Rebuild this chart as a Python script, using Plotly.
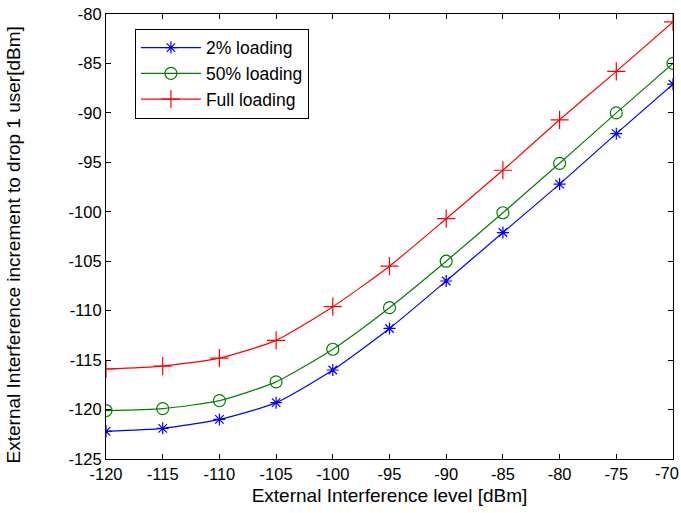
import plotly.graph_objects as go

# Interference level sweep [dBm]
interference_dbm = [-120, -115, -110, -105, -100, -95, -90, -85, -80, -75, -70]

# External interference increment needed to drop one user [dBm]
loading_2pct = [-122.2, -121.9, -121.0, -119.3, -116.0, -111.8, -107.0, -102.1, -97.2, -92.1, -87.1]
loading_50pct = [-120.1, -119.9, -119.1, -117.2, -113.9, -109.7, -105.0, -100.1, -95.1, -90.0, -85.0]
loading_full = [-115.9, -115.6, -114.8, -113.0, -109.6, -105.5, -100.7, -95.8, -90.7, -85.8, -80.8]

x_ticks = [-120, -115, -110, -105, -100, -95, -90, -85, -80, -75, -70]
y_ticks = [-125, -120, -115, -110, -105, -100, -95, -90, -85, -80]

FONT = "Liberation Sans, Arial, sans-serif"

series = [
    ("2% loading", loading_2pct, "#0000FF", "asterisk-open", 10),
    ("50% loading", loading_50pct, "#008000", "circle-open", 12),
    ("Full loading", loading_full, "#FF0000", "cross-thin-open", 13),
]

fig = go.Figure()
for name, values, color, symbol, size in series:
    fig.add_trace(go.Scatter(
        x=interference_dbm, y=values, name=name,
        mode="lines+markers",
        line=dict(color=color, width=1.2, shape="spline", smoothing=0.6),
        marker=dict(symbol=symbol, size=size, color=color,
                    line=dict(color=color, width=1.2)),
    ))

axis_common = dict(
    showgrid=False, zeroline=False,
    showline=True, linecolor="black", linewidth=1.2, mirror="ticks",
    ticks="inside", ticklen=5, tickwidth=1, tickcolor="black",
    tickfont=dict(family=FONT, size=16.5, color="black"),
    ticklabeloverflow="allow", automargin=False,
)

# the last x label is drawn separately, right-aligned to the page edge
x_labels = [str(v) for v in x_ticks]
last_label = x_labels[-1]
x_labels[-1] = ""

fig.update_xaxes(
    range=[-120, -70], tickvals=x_ticks, ticktext=x_labels,
    title=dict(text="External Interference level [dBm]",
               font=dict(family=FONT, size=19, color="black"), standoff=6),
    **axis_common,
)
fig.update_yaxes(
    range=[-125, -80], tickvals=y_ticks, ticktext=[str(v) for v in y_ticks],
    **axis_common,
)

fig.add_annotation(
    text=last_label, xref="paper", yref="paper", x=1.0125, y=0,
    xanchor="right", yanchor="middle", yshift=-14, showarrow=False,
    borderpad=0, font=dict(family=FONT, size=16.5, color="black"),
)

fig.add_annotation(
    text="External Interference increment to drop 1 user[dBm]",
    xref="paper", yref="paper", x=-0.164, y=0.48,
    xanchor="center", yanchor="middle", textangle=-90, showarrow=False,
    font=dict(family=FONT, size=19, color="black"),
)

fig.update_layout(
    width=681, height=513,
    margin=dict(l=106, r=8, t=14, b=54),
    paper_bgcolor="white", plot_bgcolor="white",
    showlegend=True,
    legend=dict(
        x=0.051, y=0.967, xanchor="left", yanchor="top",
        bgcolor="white", bordercolor="black", borderwidth=1,
        font=dict(family=FONT, size=17.5, color="black"),
        tracegroupgap=0, itemwidth=60,
    ),
)

fig.write_html("out.html")
